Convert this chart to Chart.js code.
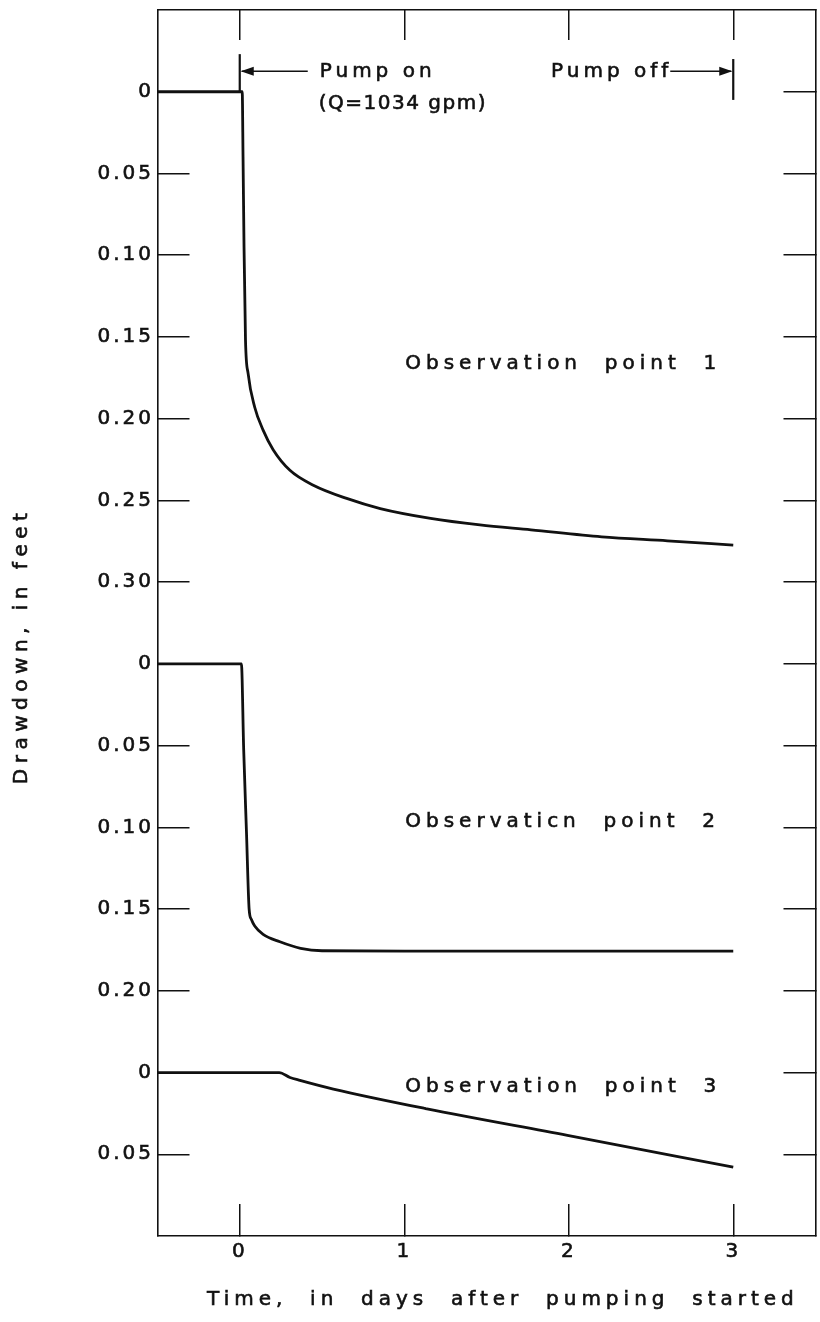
<!DOCTYPE html>
<html>
<head>
<meta charset="utf-8">
<title>Drawdown at observation points</title>
<script src="https://cdn.jsdelivr.net/npm/chart.js@4.4.1/dist/chart.umd.min.js"></script>
<style>
  html, body { margin: 0; padding: 0; background: #fff; }
  #wrap { width: 820px; height: 1322px; position: relative; }
</style>
</head>
<body>
<div id="wrap"><canvas id="chart"></canvas></div>
<script>
// time after pumping started (days) and drawdown (feet) at each well
const days1 = [-0.5, 0.015, 0.02, 0.026, 0.035, 0.051, 0.091, 0.142, 0.203, 0.305, 0.447, 0.65, 0.854, 1.16, 1.46, 1.77, 2.2, 2.6, 3.0];
const drawdown1 = [0, 0, 0.04, 0.095, 0.152, 0.1725, 0.193, 0.207, 0.219, 0.2316, 0.2407, 0.2488, 0.255, 0.261, 0.265, 0.268, 0.2723, 0.2747, 0.2773];

const days2 = [-0.5, 0.01, 0.024, 0.041, 0.057, 0.071, 0.091, 0.142, 0.244, 0.37, 0.5, 1.0, 2.0, 3.0];
const drawdown2 = [0, 0, 0.0526, 0.1033, 0.15, 0.1564, 0.1604, 0.1655, 0.17, 0.174, 0.1755, 0.1757, 0.1757, 0.1757];

const days3 = [-0.5, 0.24, 0.305, 0.366, 0.569, 1.138, 1.992, 3.0];
const drawdown3 = [0, 0, 0.003, 0.0048, 0.0101, 0.0222, 0.0384, 0.0579];

const dayTicks = [0, 1, 2, 3];
const drawdownTicks = ['0', '0.05', '0.10', '0.15', '0.20', '0.25', '0.30',
                       '0', '0.05', '0.10', '0.15', '0.20',
                       '0', '0.05'];
const wellNames = ['Observation  point  1', 'Observaticn  point  2', 'Observation  point  3'];

// the three wells share one axis; each gets its own zero line on it
const panelZero = [0, 7, 12];
const FT_PER_STEP = 0.05;

const INK = '#111';
const FONT = 'DejaVu Sans';

const toPoints = (days, ft, well) =>
  days.map((d, i) => ({ x: d, y: panelZero[well] + ft[i] / FT_PER_STEP }));

const curve = (days, ft, well) => ({
  data: toPoints(days, ft, well),
  borderColor: INK,
  borderWidth: 2.8,
  pointRadius: 0,
  cubicInterpolationMode: 'monotone',
  xAxisID: 'x',
  yAxisID: 'y',
});

const line = (ctx, x1, y1, x2, y2) => {
  ctx.beginPath();
  ctx.moveTo(x1, y1);
  ctx.lineTo(x2, y2);
  ctx.stroke();
};

const arrowHead = (ctx, tipX, y, dir) => {
  ctx.beginPath();
  ctx.moveTo(tipX, y);
  ctx.lineTo(tipX - dir * 13, y - 4.5);
  ctx.lineTo(tipX - dir * 13, y + 4.5);
  ctx.closePath();
  ctx.fill();
};

// lettering is a bit heavier than the plain face
const label = (ctx, text, x, y) => {
  ctx.fillText(text, x, y);
  ctx.strokeText(text, x, y);
};

// titles, well names and the pump on/off markers
const notes = {
  id: 'notes',
  beforeDraw(chart) {
    chart.ctx.letterSpacing = '3px';
  },
  afterDraw(chart) {
    const { ctx, chartArea, scales: { x, y } } = chart;
    ctx.save();
    ctx.fillStyle = INK;
    ctx.strokeStyle = INK;
    ctx.font = `20px "${FONT}"`;
    ctx.textBaseline = 'middle';
    ctx.lineWidth = 0.6;

    // well names
    ctx.letterSpacing = '5px';
    ctx.textAlign = 'left';
    const rows = [3.33, 8.93, 12.18];
    wellNames.forEach((name, i) => {
      label(ctx, name, x.getPixelForValue(1) + 1, y.getPixelForValue(rows[i]));
    });

    // axis titles
    ctx.textAlign = 'center';
    label(ctx, 'Time,  in  days  after  pumping  started',
      x.getPixelForValue(1.6), chartArea.bottom + 64);
    ctx.save();
    ctx.letterSpacing = '5.5px';
    ctx.translate(chartArea.left - 135.5, y.getPixelForValue(6.78));
    ctx.rotate(-Math.PI / 2);
    label(ctx, 'Drawdown, in feet', 0, 0);
    ctx.restore();

    ctx.letterSpacing = '4px';
    ctx.textAlign = 'left';
    const x0 = x.getPixelForValue(0);
    const x3 = x.getPixelForValue(3);
    const yArrow = y.getPixelForValue(-0.25);
    label(ctx, 'Pump on', x0 + 80, yArrow);
    ctx.textAlign = 'right';
    label(ctx, 'Pump off', x3 - 61, yArrow);
    ctx.letterSpacing = '1.5px';
    ctx.textAlign = 'left';
    label(ctx, '(Q=1034 gpm)', x0 + 79, y.getPixelForValue(0.15));

    // pump on / pump off markers
    ctx.lineWidth = 2.2;
    line(ctx, x0, y.getPixelForValue(-0.46), x0, y.getPixelForValue(0));
    line(ctx, x3, y.getPixelForValue(-0.4), x3, y.getPixelForValue(0.1));
    ctx.lineWidth = 1.5;
    line(ctx, x0 + 2, yArrow, x0 + 68, yArrow);
    arrowHead(ctx, x0 + 1, yArrow, -1);
    line(ctx, x3 - 63, yArrow, x3 - 2, yArrow);
    arrowHead(ctx, x3 - 1, yArrow, 1);
    ctx.restore();
  }
};

// ticks point into the plot on all four sides
const frameGrid = (len) => ({
  display: true,
  drawOnChartArea: false,
  drawTicks: true,
  tickLength: -len,
  color: INK,
  lineWidth: 1.5,
});
const frameBorder = { display: true, color: INK, width: 1.6 };
const tickFont = { family: FONT, size: 20 };

const setDayTicks = (s) => { s.ticks = dayTicks.map(v => ({ value: v })); };
const setDepthTicks = (s) => { s.ticks = drawdownTicks.map((_, i) => ({ value: i })); };
const noPad = (s) => { s.paddingLeft = s.paddingRight = s.paddingTop = s.paddingBottom = 0; };

new Chart(document.getElementById('chart'), {
  type: 'line',
  data: {
    datasets: [
      curve(days1, drawdown1, 0),
      curve(days2, drawdown2, 1),
      curve(days3, drawdown3, 2),
    ],
  },
  options: {
    responsive: true,
    maintainAspectRatio: false,
    animation: false,
    events: [],
    layout: { autoPadding: false, padding: { top: 10, right: 4.5, bottom: 0, left: 0 } },
    plugins: { legend: { display: false }, tooltip: { enabled: false } },
    scales: {
      x: {
        type: 'linear', position: 'bottom', min: -0.5, max: 3.5,
        afterBuildTicks: setDayTicks,
        afterFit: (s) => { s.height = 86; noPad(s); },
        grid: frameGrid(32), border: frameBorder,
        ticks: { autoSkip: false, maxRotation: 0, padding: 35.5, color: INK, font: tickFont,
                 textStrokeColor: INK, textStrokeWidth: 0.6,
                 callback: (v) => String(v) },
      },
      xTop: {
        type: 'linear', position: 'top', min: -0.5, max: 3.5,
        afterBuildTicks: setDayTicks,
        afterFit: (s) => { s.height = 0; noPad(s); },
        grid: frameGrid(30), border: frameBorder,
        ticks: { display: false },
      },
      y: {
        type: 'linear', position: 'left', reverse: true, min: -1, max: 14,
        afterBuildTicks: setDepthTicks,
        afterFit: (s) => { s.width = 157.5; noPad(s); },
        grid: frameGrid(32), border: frameBorder,
        ticks: { autoSkip: false, padding: 35.5, color: INK, font: tickFont,
                 textStrokeColor: INK, textStrokeWidth: 0.6,
                 callback: (v) => drawdownTicks[v] ?? '' },
      },
      yRight: {
        type: 'linear', position: 'right', reverse: true, min: -1, max: 14,
        afterBuildTicks: setDepthTicks,
        afterFit: (s) => { s.width = 0; noPad(s); },
        grid: frameGrid(32), border: frameBorder,
        ticks: { display: false },
      },
    },
  },
  plugins: [notes],
});
</script>
</body>
</html>
